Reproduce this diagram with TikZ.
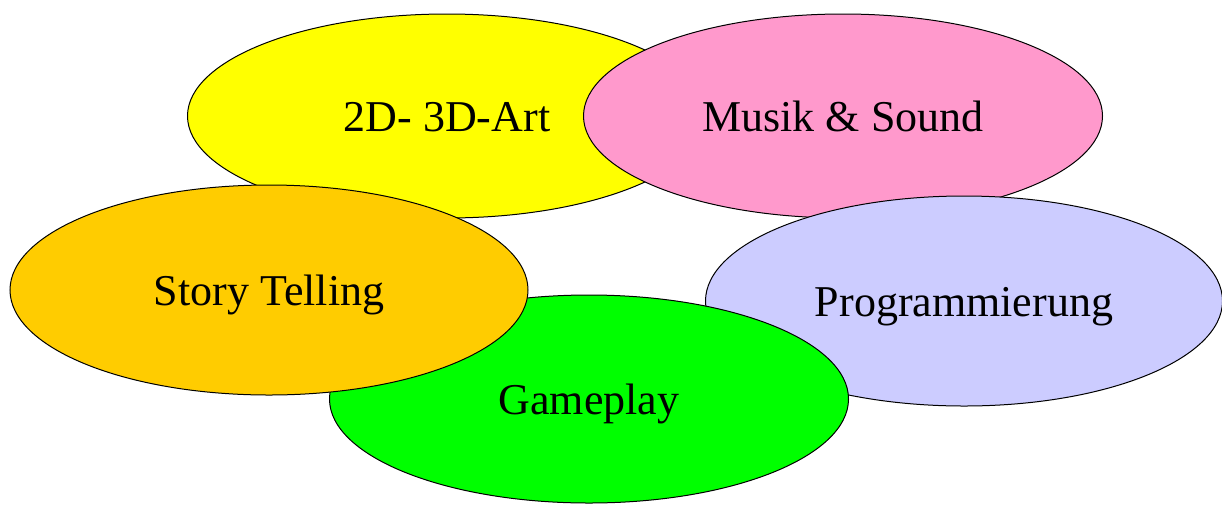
\documentclass[tikz,border=0pt]{standalone}
\usepackage{fontspec}
\setmainfont{Liberation Serif}
\definecolor{artYellow}{HTML}{FFFF00}
\definecolor{soundPink}{HTML}{FF99CC}
\definecolor{storyOrange}{HTML}{FFCC00}
\definecolor{playGreen}{HTML}{00FF00}
\definecolor{codeLavender}{HTML}{CCCCFF}
\usetikzlibrary{shapes.geometric}

\begin{document}
\begin{tikzpicture}[x=1pt,y=-1pt,
    field/.style={ellipse,draw=black,line width=1pt,inner sep=0pt,
      minimum width=519pt,minimum height=204pt,
      text height=35pt,text depth=4pt,
      font=\fontsize{44}{52}\selectfont}]
        \useasboundingbox (0,0) rectangle (1222,504);

        % Top row
        \node[field,fill=artYellow] (art) at (447,116) {2D- 3D-Art};
        \node[field,fill=soundPink] (sound) at (843,116) {Musik \& Sound};

        % Right
        \node[field,fill=codeLavender,minimum width=517pt,minimum height=210pt] (code) at (964,301) {Programmierung};

        % Bottom
        \node[field,fill=playGreen,minimum height=208pt] (play) at (589,399) {Gameplay};

        % Left
        \node[field,fill=storyOrange,minimum width=518pt,minimum height=210pt] (story) at (269,290) {Story Telling};
      \end{tikzpicture}
\end{document}
